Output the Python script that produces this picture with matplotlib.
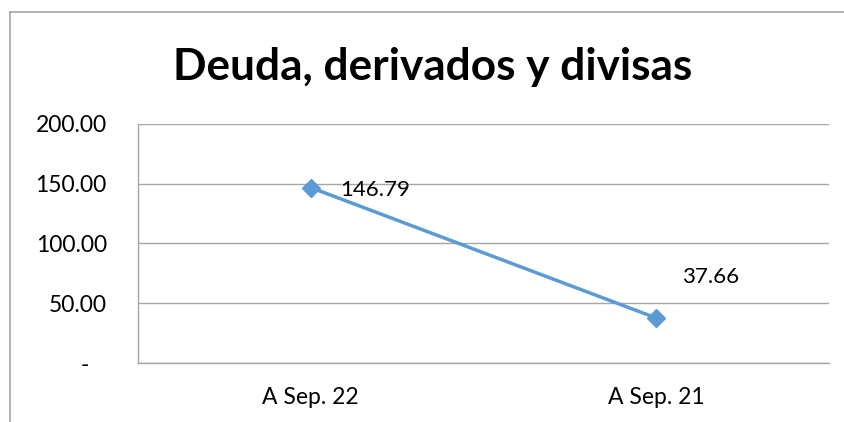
import matplotlib
matplotlib.use("Agg")
import matplotlib.pyplot as plt
from matplotlib.lines import Line2D

# Data
categories = ["A Sep. 22", "A Sep. 21"]
values = [146.79, 37.66]
y_ticks = [0, 50, 100, 150, 200]
y_tick_labels = ["-   ", "50.00", "100.00", "150.00", "200.00"]

plt.rcParams['font.family'] = ['Lato', 'DejaVu Sans']

fig = plt.figure(figsize=(8.45, 4.22), dpi=100)
ax = fig.add_axes([0.1633, 0.1398, 0.981 - 0.1633, 0.7062 - 0.1398])

x = list(range(len(categories)))
ax.plot(x, values, color='#5B9BD5', linewidth=2.5, marker='D', markersize=9)

# data labels
offsets = [(21.5, -1.5), (18.5, 29.5)]
for xi, v, off in zip(x, values, offsets):
    ax.annotate(f"{v:.2f}", (xi, v), xytext=off, textcoords='offset points',
                ha='left', va='center', fontsize=16)

ax.set_xlim(-0.5, len(categories) - 0.5)
ax.set_ylim(0, 200)
ax.set_xticks(x)
ax.set_xticklabels(categories, fontsize=16.5)
ax.set_yticks(y_ticks)
ax.set_yticklabels(y_tick_labels, fontsize=16.5)
ax.tick_params(axis='x', length=0, pad=17)
ax.tick_params(axis='y', length=0, pad=22.5)

ax.grid(axis='y', color='#A6A6A6', linewidth=1)
ax.set_axisbelow(True)
for s in ['top', 'right']:
    ax.spines[s].set_visible(False)
for s in ['left', 'bottom']:
    ax.spines[s].set_color('#A6A6A6')
    ax.spines[s].set_linewidth(1)

fig.text(0.512, 1 - 80 / 422, "Deuda, derivados y divisas", ha='center', va='baseline',
         fontsize=31.8, fontweight='bold')

# outer chart frame (partially cropped)
fx0 = 10 / 845
fy0 = 1 - 12 / 422
fig.add_artist(Line2D([fx0, 1], [fy0, fy0], color='#A6A6A6', linewidth=1.2, transform=fig.transFigure))
fig.add_artist(Line2D([fx0, fx0], [0, fy0], color='#A6A6A6', linewidth=1.2, transform=fig.transFigure))

fig.savefig("out.png", dpi=100)
